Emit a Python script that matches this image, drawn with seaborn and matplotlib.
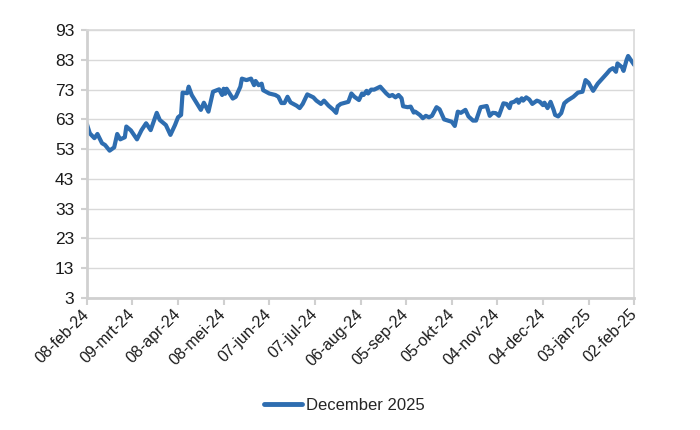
import matplotlib
matplotlib.use("Agg")
import matplotlib.pyplot as plt
import seaborn as sns
import pandas as pd
import numpy as np

dates = [
    "2024-02-08", "2024-02-10", "2024-02-13", "2024-02-15", "2024-02-18", "2024-02-20",
    "2024-02-23", "2024-02-26", "2024-02-28", "2024-03-01", "2024-03-04", "2024-03-05",
    "2024-03-08", "2024-03-12", "2024-03-15", "2024-03-18", "2024-03-21", "2024-03-25",
    "2024-03-27", "2024-03-31", "2024-04-03", "2024-04-06", "2024-04-08", "2024-04-10",
    "2024-04-11", "2024-04-14", "2024-04-15", "2024-04-17", "2024-04-23", "2024-04-25",
    "2024-04-28", "2024-05-01", "2024-05-05", "2024-05-07", "2024-05-08", "2024-05-09",
    "2024-05-10", "2024-05-14", "2024-05-16", "2024-05-19", "2024-05-20", "2024-05-23",
    "2024-05-26", "2024-05-28", "2024-05-29", "2024-05-31", "2024-06-02", "2024-06-03",
    "2024-06-07", "2024-06-11", "2024-06-13", "2024-06-15", "2024-06-17", "2024-06-19",
    "2024-06-21", "2024-06-25", "2024-06-27", "2024-06-29", "2024-07-02", "2024-07-06",
    "2024-07-08", "2024-07-11", "2024-07-13", "2024-07-16", "2024-07-19", "2024-07-21",
    "2024-07-22", "2024-07-24", "2024-07-27", "2024-07-29", "2024-07-31", "2024-08-02",
    "2024-08-05", "2024-08-07", "2024-08-08", "2024-08-10", "2024-08-11", "2024-08-13",
    "2024-08-15", "2024-08-19", "2024-08-20", "2024-08-23", "2024-08-25", "2024-08-27",
    "2024-08-29", "2024-08-31", "2024-09-02", "2024-09-03", "2024-09-06", "2024-09-08",
    "2024-09-10", "2024-09-11", "2024-09-14", "2024-09-16", "2024-09-18", "2024-09-20",
    "2024-09-22", "2024-09-25", "2024-09-27", "2024-09-30", "2024-10-03", "2024-10-05",
    "2024-10-07", "2024-10-09", "2024-10-11", "2024-10-14", "2024-10-16", "2024-10-19",
    "2024-10-21", "2024-10-24", "2024-10-26", "2024-10-28", "2024-10-30", "2024-11-01",
    "2024-11-03", "2024-11-05", "2024-11-08", "2024-11-10", "2024-11-12", "2024-11-13",
    "2024-11-15", "2024-11-17", "2024-11-18", "2024-11-20", "2024-11-21", "2024-11-23",
    "2024-11-25", "2024-11-27", "2024-11-30", "2024-12-02", "2024-12-04", "2024-12-05",
    "2024-12-07", "2024-12-09", "2024-12-11", "2024-12-12", "2024-12-14", "2024-12-16",
    "2024-12-18", "2024-12-20", "2024-12-24", "2024-12-27", "2024-12-30", "2025-01-01",
    "2025-01-03", "2025-01-06", "2025-01-09", "2025-01-12", "2025-01-15", "2025-01-17",
    "2025-01-19", "2025-01-21", "2025-01-22", "2025-01-25", "2025-01-26", "2025-01-28",
    "2025-01-29", "2025-02-01", "2025-02-02",
]

values = [
    61.5, 58.3, 56.7, 58.1, 55.0, 54.4,
    52.5, 53.6, 58.1, 56.3, 57.0, 60.6,
    59.3, 56.3, 59.4, 61.7, 59.4, 65.2,
    62.8, 61.1, 57.8, 61.1, 63.7, 64.5,
    72.0, 71.8, 74.0, 71.2, 66.2, 68.6,
    65.6, 72.3, 73.1, 71.2, 73.3, 71.6,
    73.3, 70.0, 70.6, 74.0, 76.7, 76.2,
    76.7, 74.5, 75.9, 74.5, 75.0, 72.8,
    71.7, 71.2, 70.6, 68.5, 68.5, 70.6,
    68.7, 67.6, 66.8, 68.2, 71.4, 70.4,
    69.3, 68.2, 69.3, 67.6, 66.3, 65.2,
    67.4, 68.2, 68.6, 68.9, 71.7, 70.6,
    69.5, 71.7, 71.2, 72.6, 71.7, 73.0,
    73.0, 74.0, 73.4, 71.7, 70.8, 71.2,
    70.4, 71.2, 70.1, 67.4, 67.1, 67.3,
    65.3, 65.6, 64.5, 63.4, 64.2, 63.7,
    64.2, 67.1, 66.4, 63.0, 62.5, 62.2,
    60.8, 65.6, 65.2, 66.2, 64.0, 62.6,
    62.6, 67.1, 67.3, 67.5, 64.2, 65.2,
    65.1, 64.2, 68.4, 68.2, 66.8, 68.6,
    68.9, 69.7, 68.6, 70.1, 69.3, 70.4,
    69.7, 68.2, 69.3, 68.9, 67.8, 68.6,
    66.8, 68.9, 66.2, 64.5, 64.0, 65.1,
    68.4, 69.3, 70.6, 72.0, 72.3, 76.2,
    75.3, 72.6, 75.0, 76.7, 78.4, 79.6,
    80.2, 79.0, 81.8, 80.5, 79.3, 83.0,
    84.3, 82.0, 81.3,
]

tick_dates = ["2024-02-08", "2024-03-09", "2024-04-08", "2024-05-08", "2024-06-07",
              "2024-07-07", "2024-08-06", "2024-09-05", "2024-10-05", "2024-11-04",
              "2024-12-04", "2025-01-03", "2025-02-02"]
tick_labels = ["08-feb-24", "09-mrt-24", "08-apr-24", "08-mei-24", "07-jun-24",
               "07-jul-24", "06-aug-24", "05-sep-24", "05-okt-24", "04-nov-24",
               "04-dec-24", "03-jan-25", "02-feb-25"]
y_ticks = [3, 13, 23, 33, 43, 53, 63, 73, 83, 93]
series_name = "December 2025"

sns.set_theme(style="white")
plt.rcParams["font.family"] = ["Liberation Sans", "DejaVu Sans"]

df = pd.DataFrame({"date": pd.to_datetime(dates), "value": values, "series": series_name})

fig = plt.figure(figsize=(7.0, 4.3), dpi=100)
ax = fig.add_axes([0.124, 0.307, 0.782, 0.623])

line_color = "#2E6DB0"
sns.lineplot(data=df, x="date", y="value", hue="series", palette=[line_color],
             linewidth=3.0, ax=ax, legend=True)

ax.set_xlim(pd.Timestamp(tick_dates[0]), pd.Timestamp(tick_dates[-1]))
ax.set_ylim(y_ticks[0], y_ticks[-1])
ax.set_yticks(y_ticks)
ax.set_yticklabels([str(t) for t in y_ticks], fontsize=12.5, color="#1a1a1a")
ax.set_xticks(pd.to_datetime(tick_dates))
ax.set_xticklabels(tick_labels, rotation=45, ha="right", va="center",
                   rotation_mode="anchor", fontsize=11.5, color="#1a1a1a")
ax.set_xlabel("")
ax.set_ylabel("")

ax.grid(axis="y", color="#D9D9D9", linewidth=1.0)
ax.grid(axis="x", visible=False)
ax.set_axisbelow(True)

for side in ["left", "bottom"]:
    ax.spines[side].set_color("#D0D0D0")
    ax.spines[side].set_linewidth(2.0)
for side in ["top", "right"]:
    ax.spines[side].set_color("#D9D9D9")
    ax.spines[side].set_linewidth(1.2)

ax.tick_params(axis="x", which="major", direction="out", length=5, width=1.5,
               color="#D0D0D0", bottom=True, pad=5)
ax.tick_params(axis="y", which="major", direction="out", length=4, width=1.5,
               color="#D0D0D0", left=True, pad=5)

leg = ax.legend(loc="center", bbox_to_anchor=(0.47, -0.40), frameon=False,
                fontsize=12, handlelength=2.3, handletextpad=0.2)
for h in leg.get_lines():
    h.set_linewidth(3.5)

fig.savefig("out.png", dpi=100)
